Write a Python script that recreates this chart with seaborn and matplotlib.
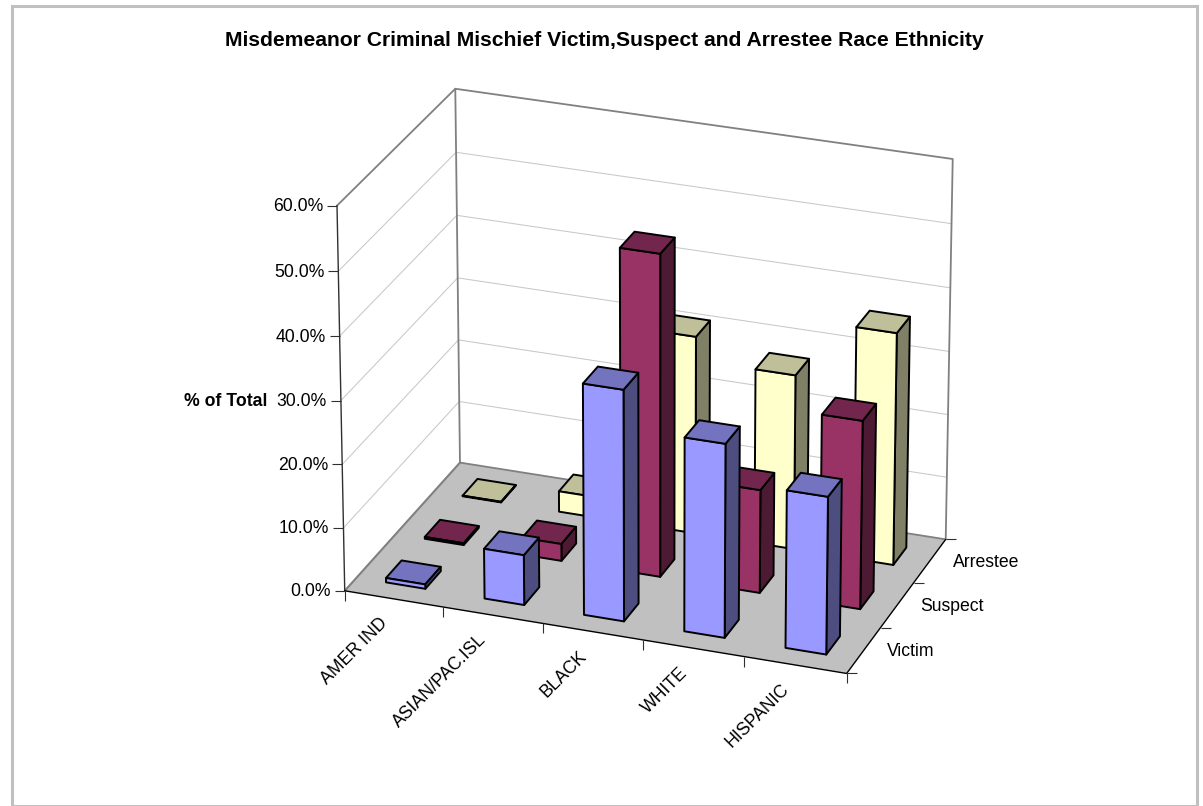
import numpy as np
import matplotlib
matplotlib.use("Agg")
import matplotlib.pyplot as plt
import matplotlib.markers as mmarkers
from matplotlib.patches import Rectangle
from matplotlib.transforms import IdentityTransform, offset_copy
from mpl_toolkits.mplot3d.art3d import Poly3DCollection
from mpl_toolkits.mplot3d import proj3d
import seaborn as sns

# ---------- data ----------
categories = ["AMER IND", "ASIAN/PAC.ISL", "BLACK", "WHITE", "HISPANIC"]
series_names = ["Victim", "Suspect", "Arrestee"]
victim = [0.7, 7.9, 36.2, 30.3, 24.6]
suspect = [0.3, 2.7, 50.7, 16.3, 29.6]
arrestee = [0.1, 3.3, 31.4, 27.7, 36.7]
z_ticks = [0, 10, 20, 30, 40, 50, 60]
title = "Misdemeanor Criminal Mischief Victim,Suspect and Arrestee Race Ethnicity"
z_title = "% of Total"

# ---------- style ----------
W, H = 1203, 806
sns.set_theme(style="white")
plt.rcParams["font.family"] = ["Liberation Sans", "DejaVu Sans"]
front_cols = sns.color_palette(["#9999FF", "#993366", "#FFFFCC"])
top_cols = sns.color_palette(["#7373BF", "#73264D", "#BFBF99"])
side_cols = sns.color_palette(["#4D4D80", "#4D1A33", "#808066"])
GRID, EDGE, FLOOR = "#C8C8C8", "#808080", "#C0C0C0"

fig = plt.figure(figsize=(W / 100, H / 100), dpi=100, facecolor="white")
side = W / H
ax = fig.add_axes([0, (1 - side) / 2, 1, side], projection="3d", computed_zorder=False)
ax.set_axis_off()
ax.patch.set_visible(False)

nx, ny, zmax = len(categories), len(series_names), z_ticks[-1]
ax.set_xlim(0, nx)
ax.set_ylim(0, ny)
ax.set_zlim(0, zmax)

# ---------- camera: calibrated on the box corners of the chart ----------
world = np.array([[0, 0, 0], [nx, 0, 0], [nx, ny, 0], [0, ny, 0],
                  [0, ny, zmax], [nx, ny, zmax], [0, 0, zmax]], float)
pixels = np.array([[344.7, 590.7], [846.7, 673.5], [945.7, 539.3], [460.0, 462.7],
                   [455.3, 88.7], [952.7, 159.0], [337.0, 205.7]])
scale = np.array([nx, ny, zmax], float)
rows = []
for (X, Y, Z), (u, v) in zip(world / scale, pixels):
    rows.append([X, Y, Z, 1, 0, 0, 0, 0, -u * X, -u * Y, -u * Z, -u])
    rows.append([0, 0, 0, 0, X, Y, Z, 1, -v * X, -v * Y, -v * Z, -v])
P = np.linalg.svd(np.array(rows))[2][-1].reshape(3, 4)
P = P @ np.diag([1 / nx, 1 / ny, 1 / zmax, 1])
P = P / P[2, 3]
ax.apply_aspect()
inv = ax.transData.inverted()
o, ex, ey = inv.transform([[0, H], [1, H], [0, H - 1]])
A = np.array([[ex[0] - o[0], ey[0] - o[0], o[0]],
              [ex[1] - o[1], ey[1] - o[1], o[1]],
              [0, 0, 1]])
Q = A @ P
M = np.vstack([Q[0], Q[1], [0, 0, 0, -1], Q[2]])
ax.get_proj = lambda: M

# ---------- floor, walls, gridlines ----------
floor = Poly3DCollection([[(0, 0, 0), (nx, 0, 0), (nx, ny, 0), (0, ny, 0)]],
                         facecolors=FLOOR, edgecolors="none", zorder=1)
ax.add_collection3d(floor)
for z in z_ticks[1:-1]:
    ax.plot([0, 0, nx], [0, ny, ny], [z, z, z], color=GRID, lw=0.75, zorder=2)
ax.plot([0, 0, nx, nx, nx, 0], [0, ny, ny, ny, ny, ny], [zmax, zmax, zmax, 0, 0, 0],
        color=EDGE, lw=1.3, zorder=3)
ax.plot([0, 0], [ny, ny], [0, zmax], color=EDGE, lw=1.3, zorder=3)
ax.plot([0, 0], [0, ny], [0, 0], color=EDGE, lw=1.5, zorder=3)
ax.plot([0, 0], [0, 0], [0, zmax], color="#303030", lw=1.0, zorder=3)
ax.plot([0, nx, nx], [0, 0, ny], [0, 0, 0], color="black", lw=1.0, zorder=3)

# ---------- ticks ----------
TICK = 10 * 0.72
ax.plot([0] * len(z_ticks), [0] * len(z_ticks), z_ticks, ls="none", marker=mmarkers.TICKLEFT,
        ms=TICK, mew=0.8, color="#303030", zorder=3)
ax.plot(list(range(nx + 1)), [0] * (nx + 1), [0] * (nx + 1), ls="none", marker=mmarkers.TICKDOWN,
        ms=TICK, mew=0.8, color="#303030", zorder=3)
ax.plot([nx] * (ny + 1), list(range(ny + 1)), [0] * (ny + 1), ls="none", marker=mmarkers.TICKRIGHT,
        ms=TICK, mew=0.8, color="#303030", zorder=3)

# ---------- bars ----------
BAR = 0.4
series = [victim, suspect, arrestee]
for j in reversed(range(ny)):
    for i in range(nx):
        colors = ["none", top_cols[j], front_cols[j], "none", "none", side_cols[j]]
        edges = ["none", "black", "black", "none", "none", "black"]
        ax.bar3d(i + (1 - BAR) / 2, j + (1 - BAR) / 2, 0, BAR, BAR, series[j][i],
                 color=colors, edgecolor=edges, linewidth=1.4, shade=False, zorder=5 + ny - j)

# ---------- text ----------
FS = 12.7
def label(x, y, z, s, dx, dy, **kw):
    px, py, _ = proj3d.proj_transform(x, y, z, M)
    ax.text2D(px, py, s, transform=offset_copy(ax.transData, fig=fig, x=dx, y=dy, units="dots"),
              fontsize=FS, color="black", zorder=10, **kw)

for z in z_ticks:
    label(0, 0, z, f"{z:.1f}%", -14, -1, ha="right", va="center")
for i, c in enumerate(categories):
    label(i + 0.5, 0, 0, c, -15, -16, ha="right", va="top", rotation=45, rotation_mode="anchor")
for j, s in enumerate(series_names):
    label(nx, j + 0.5, 0, s, 23, -1, ha="left", va="center")

fig.text(604.5 / W, 1 - 41 / H, title, ha="center", va="center", fontsize=15.2,
         fontweight="bold", color="black")
fig.text(226 / W, 1 - 402 / H, z_title, ha="center", va="center", fontsize=FS,
         fontweight="bold", color="black")

# ---------- chart-area border ----------
fig.add_artist(Rectangle((11.5, H - 805.5), 1185, 800, transform=IdentityTransform(),
                         fill=False, edgecolor="#C0C0C0", linewidth=2.2))

fig.savefig("out.png", dpi=100, facecolor="white")
